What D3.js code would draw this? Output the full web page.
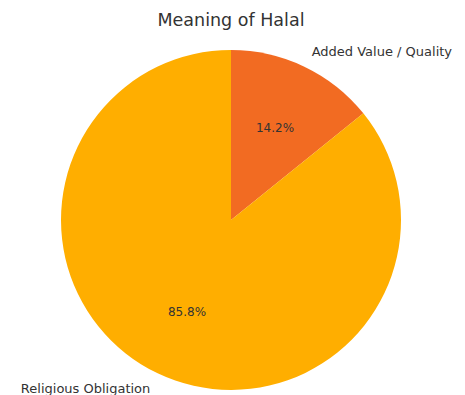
<!DOCTYPE html>
<html>
<head>
<meta charset="utf-8">
<script src="https://cdn.jsdelivr.net/npm/d3@7"></script>
<style>
  body { margin: 0; background: #fff; }
  svg { display: block; font-family: "DejaVu Sans", sans-serif; }
</style>
</head>
<body>
<div id="chart"></div>
<script>
var TITLE = "Meaning of Halal";
var CATEGORIES = ["Added Value / Quality", "Religious Obligation"];
var VALUES = [14.2, 85.8];
var COLORS = ["#f26b22", "#ffae00"];

function init() {
    var width = 465, height = 395;
    var cx = 231, cy = 220, radius = 170;

    var svg = d3.select("#chart").append("svg")
        .attr("width", width).attr("height", height);

    svg.append("text")
        .attr("x", cx).attr("y", 26)
        .attr("text-anchor", "middle")
        .attr("fill", "#333")
        .style("font-size", "17.5px")
        .text(TITLE);

    var data = CATEGORIES.map(function (c, i) { return { name: c, value: VALUES[i] }; });

    var pie = d3.pie().sort(null).value(function (d) { return d.value; });
    var arcs = pie(data);

    var color = d3.scaleOrdinal().domain(CATEGORIES).range(COLORS);
    var arc = d3.arc().innerRadius(0).outerRadius(radius);
    var pctArc = d3.arc().innerRadius(radius * 0.6).outerRadius(radius * 0.6);
    var labelArc = d3.arc().innerRadius(radius * 1.1).outerRadius(radius * 1.1);

    var g = svg.append("g").attr("transform", "translate(" + cx + "," + cy + ")");

    g.selectAll("path.slice")
        .data(arcs).enter()
        .append("path")
        .attr("class", "slice")
        .attr("d", arc)
        .attr("fill", function (d) { return color(d.data.name); });

    /* percentages */
    g.selectAll("text.pct")
        .data(arcs).enter()
        .append("text")
        .attr("class", "pct")
        .attr("transform", function (d) { return "translate(" + pctArc.centroid(d) + ")"; })
        .attr("text-anchor", "middle")
        .attr("dy", "0.35em")
        .attr("fill", "#333")
        .style("font-size", "12px")
        .text(function (d) { return d.data.value.toFixed(1) + "%"; });

    /* category labels */
    g.selectAll("text.label")
        .data(arcs).enter()
        .append("text")
        .attr("class", "label")
        .attr("transform", function (d) { return "translate(" + labelArc.centroid(d) + ")"; })
        .attr("text-anchor", function (d) {
            return labelArc.centroid(d)[0] > 0 ? "start" : "end";
        })
        .attr("dy", "0.35em")
        .attr("fill", "#333")
        .style("font-size", "13px")
        .text(function (d) { return d.data.name; });
}

init();
</script>
</body>
</html>
